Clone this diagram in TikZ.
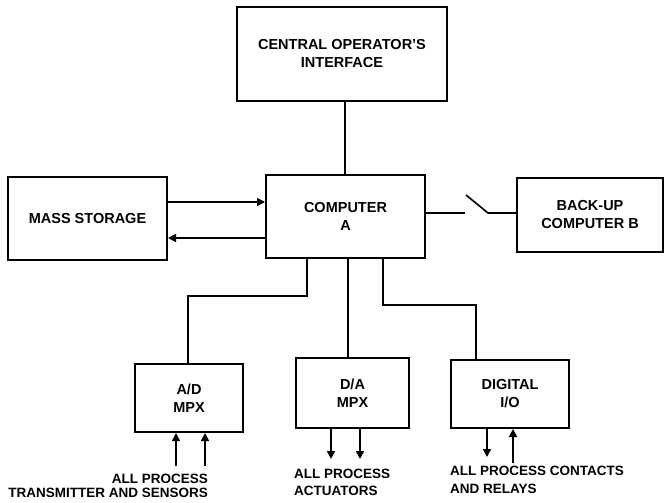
\documentclass[tikz,border=0pt]{standalone}
\usepackage{fontspec}
\setmainfont{Liberation Sans}
\usetikzlibrary{arrows.meta}
\tikzset{
  box/.style={draw, line width=2pt, rectangle, inner sep=0pt, align=center,
    font=\fontsize{14.5}{18}\selectfont\bfseries},
  wire/.style={line width=1.6pt},
  arr/.style={wire, -{Triangle[length=8pt,width=8pt]}},
  lbl/.style={inner sep=0pt, font=\fontsize{13.5}{15}\selectfont\bfseries},
}
\begin{document}
\begin{tikzpicture}[x=1pt,y=-1pt]
\useasboundingbox (0,0) rectangle (670,503);
% boxes
\node[box, minimum width=210, minimum height=94] (cen) at (342,54) {CENTRAL OPERATOR'S\\INTERFACE};
\node[box, minimum width=159, minimum height=83] (comp) at (345.5,216.5) {COMPUTER\\A};
\node[box, minimum width=159, minimum height=83] (mass) at (87.5,218.5) {MASS STORAGE};
\node[box, minimum width=146, minimum height=74] (back) at (590,215) {BACK-UP\\COMPUTER B};
\node[box, minimum width=108, minimum height=68] (ad) at (189,398) {A/D\\MPX};
\node[box, minimum width=113, minimum height=70] (da) at (352.5,393) {D/A\\MPX};
\node[box, minimum width=118, minimum height=68] (dio) at (510,394) {DIGITAL\\I/O};
% operator interface to computer
\draw[wire] (cen.south -| 345,0) -- (comp.north -| 345,0);
% mass storage links
\draw[arr] (mass.east |- 0,202) -- (comp.west |- 0,202);
\draw[arr] (comp.west |- 0,238) -- (mass.east |- 0,238);
% switch to backup computer
\coordinate (swa) at (465,213);
\coordinate (swb) at (466,195);
\coordinate (swc) at (488,213);
\draw[wire] (comp.east |- 0,213) -- (swa);
\draw[wire] (swb) -- (swc) -- (back.west |- 0,213);
% computer to I/O units
\draw[wire] (comp.south -| 307,0) |- (188,296) -- (ad.north -| 188,0);
\draw[wire] (comp.south -| 348,0) -- (da.north -| 348,0);
\draw[wire] (comp.south -| 383,0) |- (476,305) -- (dio.north -| 476,0);
% field signals
\coordinate (a1) at (176,466);
\coordinate (a2) at (205,466);
\coordinate (d1) at (331,459);
\coordinate (d2) at (360,459);
\coordinate (g1) at (487,457);
\coordinate (g2) at (513,463);
\draw[arr] (a1) -- (ad.south -| a1);
\draw[arr] (a2) -- (ad.south -| a2);
\draw[arr] (da.south -| d1) -- (d1);
\draw[arr] (da.south -| d2) -- (d2);
\draw[arr] (dio.south -| g1) -- (g1);
\draw[arr] (g2) -- (dio.south -| g2);
% labels
\node[lbl, anchor=east] (la1) at (208,479) {ALL PROCESS};
\node[lbl, anchor=east] (la2) at (208,493) {TRANSMITTER AND SENSORS};
\node[lbl, anchor=west] (ld1) at (294,474) {ALL PROCESS};
\node[lbl, anchor=west] (ld2) at (294,491) {ACTUATORS};
\node[lbl, anchor=west] (lg1) at (450,471) {ALL PROCESS CONTACTS};
\node[lbl, anchor=west] (lg2) at (450,489) {AND RELAYS};
\end{tikzpicture}
\end{document}
